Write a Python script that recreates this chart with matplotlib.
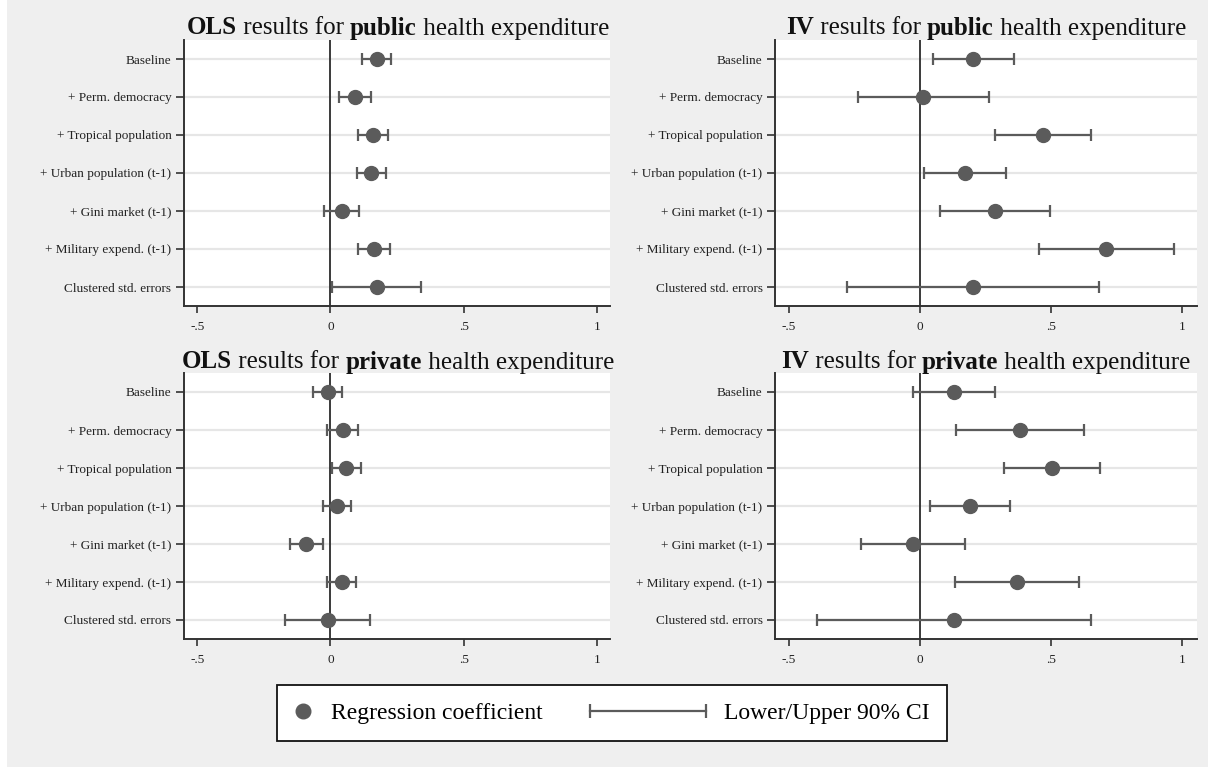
import matplotlib
matplotlib.use("Agg")
import matplotlib.pyplot as plt
from matplotlib.lines import Line2D
from matplotlib.legend_handler import HandlerLine2D
from matplotlib.offsetbox import TextArea, HPacker, AnnotationBbox
from matplotlib.patches import Rectangle

plt.rcParams['font.family'] = ['Liberation Serif', 'DejaVu Serif']

categories = ["Baseline", "+ Perm. democracy", "+ Tropical population",
              "+ Urban population (t-1)", "+ Gini market (t-1)",
              "+ Military expend. (t-1)", "Clustered std. errors"]

ols_pub_coef = [0.174, 0.092, 0.160, 0.151, 0.043, 0.163, 0.174]
ols_pub_lo   = [0.117, 0.033, 0.105, 0.098, -0.024, 0.104, 0.006]
ols_pub_hi   = [0.228, 0.151, 0.217, 0.208, 0.107, 0.223, 0.341]

iv_pub_coef = [0.201, 0.013, 0.469, 0.170, 0.285, 0.710, 0.201]
iv_pub_lo   = [0.049, -0.235, 0.288, 0.015, 0.077, 0.454, -0.280]
iv_pub_hi   = [0.357, 0.262, 0.651, 0.327, 0.496, 0.969, 0.683]

ols_priv_coef = [-0.010, 0.046, 0.059, 0.024, -0.091, 0.042, -0.010]
ols_priv_lo   = [-0.065, -0.013, 0.006, -0.028, -0.151, -0.012, -0.169]
ols_priv_hi   = [0.045, 0.104, 0.113, 0.076, -0.027, 0.095, 0.150]

iv_priv_coef = [0.130, 0.383, 0.503, 0.192, -0.027, 0.370, 0.130]
iv_priv_lo   = [-0.025, 0.139, 0.321, 0.040, -0.226, 0.135, -0.393]
iv_priv_hi   = [0.287, 0.627, 0.688, 0.342, 0.173, 0.607, 0.654]

xticks = [-0.5, 0, 0.5, 1]
xticklabels = ["-.5", "0", ".5", "1"]

titles = [
    [("OLS", True), (" results for ", False), ("public", True), (" health expenditure", False)],
    [("IV", True), (" results for ", False), ("public", True), (" health expenditure", False)],
    [("OLS", True), (" results for ", False), ("private", True), (" health expenditure", False)],
    [("IV", True), (" results for ", False), ("private", True), (" health expenditure", False)],
]

panels = [
    (ols_pub_coef, ols_pub_lo, ols_pub_hi),
    (iv_pub_coef, iv_pub_lo, iv_pub_hi),
    (ols_priv_coef, ols_priv_lo, ols_priv_hi),
    (iv_priv_coef, iv_priv_lo, iv_priv_hi),
]

W, H = 1208, 767
BG = "#efefef"
DARK = "#5b5b5b"

fig = plt.figure(figsize=(W / 100, H / 100), dpi=100, facecolor=BG)
fig.patches.append(Rectangle((0, 0), 7 / W, 1, transform=fig.transFigure,
                             facecolor="white", edgecolor="none", zorder=-10))

# axes boxes in pixels: left, right, top, bottom
boxes = [(184, 610, 40, 306), (775, 1197, 40, 306),
         (184, 610, 373, 639), (775, 1197, 373, 639)]
xlims = [(-0.55, 1.05), (-0.553, 1.057), (-0.55, 1.05), (-0.553, 1.057)]
title_cx = [398, 986, 398, 986]
title_y = [28, 28, 362, 362]

ypos = list(range(len(categories)))

for i, (box, (coef, lo, hi)) in enumerate(zip(boxes, panels)):
    l, r, t, b = box
    ax = fig.add_axes([l / W, 1 - b / H, (r - l) / W, (b - t) / H])
    ax.set_facecolor("white")
    ax.set_xlim(*xlims[i])
    ax.set_ylim(len(categories) - 0.5, -0.5)
    for y in ypos:
        ax.axhline(y, color="#e6e6e6", lw=1.6, zorder=0)
    ax.axvline(0, color="#3a3a3a", lw=1.4, zorder=1)
    xerr = [[c - a for c, a in zip(coef, lo)], [h - c for c, h in zip(coef, hi)]]
    ax.errorbar(coef, ypos, xerr=xerr, fmt="o", color=DARK, ecolor=DARK,
                elinewidth=1.6, capsize=4.2, capthick=1.6, markersize=10,
                zorder=3)
    ax.set_yticks(ypos)
    ax.set_yticklabels(categories, fontsize=9.5, color="#222222")
    ax.set_xticks(xticks)
    ax.set_xticklabels(xticklabels, fontsize=9.5, color="#222222")
    for s in ["top", "right"]:
        ax.spines[s].set_visible(False)
    for s in ["left", "bottom"]:
        ax.spines[s].set_color("#333333")
        ax.spines[s].set_linewidth(1.4)
    ax.tick_params(axis="y", length=6, width=1.2, color="#333333", pad=3)
    ax.tick_params(axis="x", length=5, width=1.2, color="#333333", pad=6)

    parts = [TextArea(txt, textprops=dict(fontsize=18, color="#111111",
                                          fontweight="bold" if bold else "normal"))
             for txt, bold in titles[i]]
    pack = HPacker(children=parts, align="baseline", pad=0, sep=0)
    ab = AnnotationBbox(pack, (title_cx[i] / W, 1 - title_y[i] / H),
                        xycoords="figure fraction", frameon=False,
                        box_alignment=(0.5, 0.5))
    fig.add_artist(ab)


class SizedHandler(HandlerLine2D):
    def __init__(self, width, **kw):
        super().__init__(**kw)
        self._w = width

    def legend_artist(self, legend, orig_handle, fontsize, handlebox):
        handlebox.width = self._w
        return super().legend_artist(legend, orig_handle, fontsize, handlebox)


h1 = Line2D([], [], linestyle="none", marker="o", color=DARK, markersize=10.5)
h2 = Line2D([], [], linestyle="-", marker="|", color=DARK, lw=1.6,
            markersize=10, markeredgewidth=1.6)
leg = fig.legend([h1, h2], ["Regression coefficient", "Lower/Upper 90% CI"],
                 loc="center", bbox_to_anchor=(611.5 / W, 1 - 713 / H),
                 ncol=2, fontsize=17, frameon=True, fancybox=False,
                 edgecolor="#111111", facecolor="white", framealpha=1,
                 columnspacing=2.0, handletextpad=0.75,
                 borderpad=0.72,
                 handler_map={h1: SizedHandler(14, numpoints=1),
                              h2: SizedHandler(84, numpoints=2, marker_pad=0.0)})
leg.get_frame().set_linewidth(1.3)

fig.savefig("out.png", dpi=100, facecolor=BG)
